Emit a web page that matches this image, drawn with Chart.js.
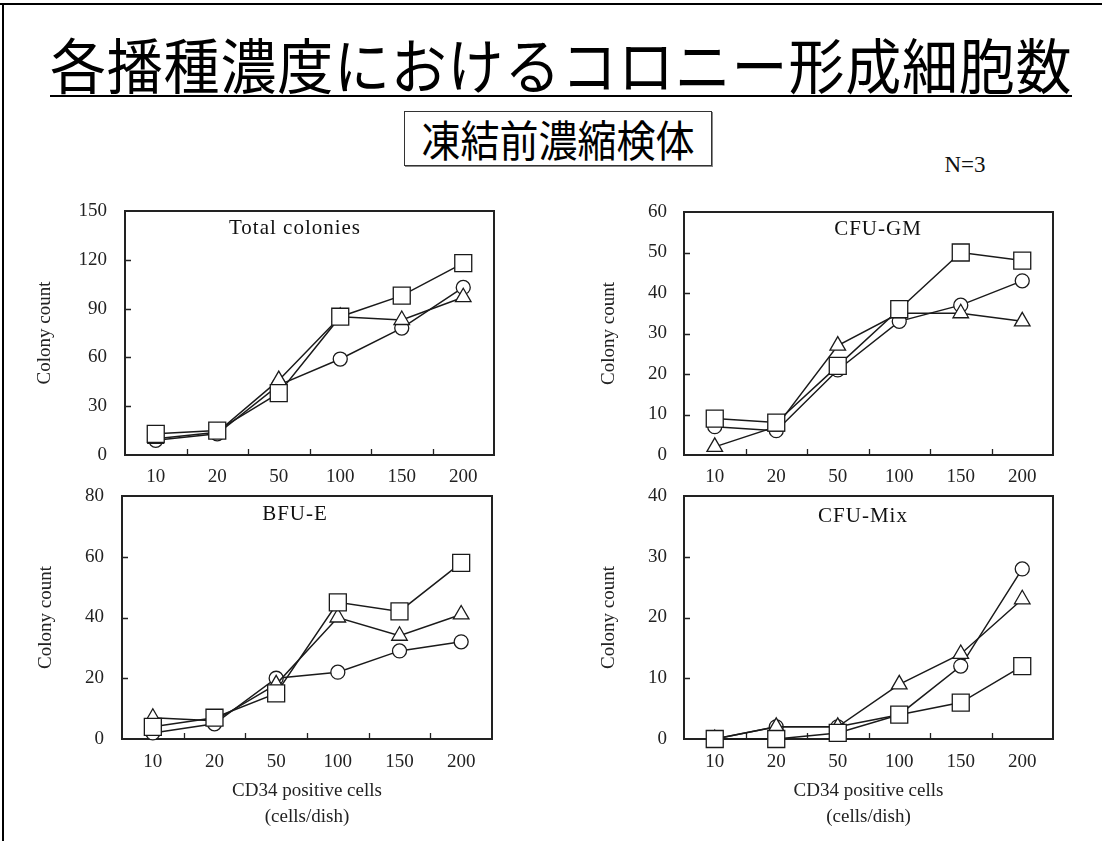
<!DOCTYPE html>
<html><head><meta charset="utf-8">
<script src="https://cdn.jsdelivr.net/npm/chart.js@4"></script>
<style>
html,body{margin:0;padding:0;background:#fff;}
#page{position:relative;width:1102px;height:841px;overflow:hidden;background:#fff;}
.abs{position:absolute;}
#frameTop{left:0;top:3px;width:1102px;height:2px;background:#000;}
#frameLeft{left:2px;top:3px;width:2px;height:838px;background:#000;}
#mainTitle{left:50px;top:30px;width:1022px;height:66px;font-family:"Noto Sans CJK JP",sans-serif;font-size:56px;line-height:66px;letter-spacing:0.8px;white-space:nowrap;color:#000;transform:scaleY(1.08);transform-origin:50% 50%;}
#underline{left:50px;top:95px;width:1022px;height:2px;background:#000;}
#subBox{left:404px;top:111px;width:306px;height:53px;border:1px solid #333;box-shadow:1px 1px 0 #888;text-align:center;white-space:nowrap;color:#000;}
#subBox span{display:inline-block;font-family:"Noto Sans CJK JP",sans-serif;font-size:39px;line-height:53px;transform:scaleY(1.1);transform-origin:50% 50%;}
#nText{left:930px;top:150px;width:70px;text-align:center;font-family:"Liberation Serif",serif;font-size:23px;line-height:30px;color:#111;}
.ptitle{font-family:"Liberation Serif",serif;font-size:21px;line-height:24px;letter-spacing:1px;color:#111;white-space:nowrap;transform:translate(-50%,-50%);}
canvas{position:absolute;}
</style>
</head>
<body>
<div id="page">
  <div id="frameTop" class="abs"></div>
  <div id="frameLeft" class="abs"></div>
  <div id="mainTitle" class="abs">各播種濃度におけるコロニー形成細胞数</div>
  <div id="underline" class="abs"></div>
  <div id="subBox" class="abs"><span>凍結前濃縮検体</span></div>
  <div id="nText" class="abs">N=3</div>
  <canvas id="cTL" width="484" height="316" style="left:25px;top:179px;"></canvas>
  <canvas id="cTR" width="484" height="315" style="left:584px;top:180px;"></canvas>
  <canvas id="cBL" width="485" height="367" style="left:22px;top:464px;"></canvas>
  <canvas id="cBR" width="484" height="367" style="left:584px;top:464px;"></canvas>
  <div class="abs ptitle" style="left:295px;top:227px;">Total colonies</div>
  <div class="abs ptitle" style="left:878px;top:228px;">CFU-GM</div>
  <div class="abs ptitle" style="left:295px;top:513px;">BFU-E</div>
  <div class="abs ptitle" style="left:863px;top:515px;">CFU-Mix</div>
</div>
<script>
// ---- data ----
const categories = ['10', '20', '50', '100', '150', '200'];

const totalSquare   = [13, 15, 38, 85, 98, 118];
const totalTriangle = [10, 14, 46, 85, 83, 97];
const totalCircle   = [9, 13, 43, 59, 78, 103];

const gmSquare   = [9, 8, 22, 36, 50, 48];
const gmTriangle = [2, 7, 27, 35, 35, 33];
const gmCircle   = [7, 6, 21, 33, 37, 43];

const bfuSquare   = [4, 7, 15, 45, 42, 58];
const bfuTriangle = [7, 6, 18, 40, 34, 41];
const bfuCircle   = [2, 5, 20, 22, 29, 32];

const mixSquare   = [0, 0, 1, 4, 6, 12];
const mixTriangle = [0, 2, 2, 9, 14, 23];
const mixCircle   = [0, 2, 2, 4, 12, 28];

const yLabel = 'Colony count';
const xLabel = ['CD34 positive cells', '(cells/dish)'];

// ---- rendering ----
const SERIF = "'Liberation Serif', 'Times New Roman', serif";
const INK = '#1a1a1a';

const frameTicks = {
  id: 'frameTicks',
  beforeDatasetsDraw(chart) {
    const {ctx, chartArea: a, scales: {x, y}} = chart;
    ctx.save();
    ctx.strokeStyle = '#222';
    ctx.lineWidth = 1.3;
    ctx.beginPath();
    for (let i = 1; i < x.ticks.length; i++) {
      const px = Math.round((x.getPixelForTick(i - 1) + x.getPixelForTick(i)) / 2) + 0.5;
      ctx.moveTo(px, a.bottom);
      ctx.lineTo(px, a.bottom - 6);
    }
    for (let i = 1; i < y.ticks.length - 1; i++) {
      const py = Math.round(y.getPixelForTick(i)) + 0.5;
      ctx.moveTo(a.left, py);
      ctx.lineTo(a.left + 6, py);
    }
    ctx.stroke();
    ctx.lineWidth = 2;
    ctx.strokeStyle = '#222';
    ctx.strokeRect(a.left, a.top, a.right - a.left, a.bottom - a.top);
    ctx.restore();
  }
};

function series(data, style) {
  const r = style === 'rect' ? 12 : (style === 'triangle' ? 9 : 7);
  return {
    data: data,
    borderColor: INK,
    borderWidth: 1.5,
    pointStyle: style,
    pointRadius: r,
    pointHoverRadius: r,
    pointBorderWidth: 1.3,
    pointBorderColor: INK,
    pointBackgroundColor: '#fff',
    tension: 0,
    clip: false
  };
}

function makeChart(id, sq, tri, cir, yMax, yStep, titlePad, tickPad, withXTitle) {
  const xh = withXTitle ? 92 : 40;
  return new Chart(document.getElementById(id), {
    type: 'line',
    data: {
      labels: categories,
      datasets: [series(sq, 'rect'), series(tri, 'triangle'), series(cir, 'circle')]
    },
    options: {
      responsive: false,
      animation: false,
      devicePixelRatio: 1,
      events: [],
      layout: {autoPadding: false, padding: {top: 32, right: 15, left: 0, bottom: 0}},
      plugins: {legend: {display: false}, tooltip: {enabled: false}, title: {display: false}},
      scales: {
        x: {
          type: 'category',
          offset: true,
          grid: {display: false, offset: true, drawTicks: false},
          border: {display: false},
          ticks: {color: '#222', font: {family: SERIF, size: 19}, padding: withXTitle ? 12 : 11, maxRotation: 0, autoSkip: false},
          title: {
            display: withXTitle,
            text: xLabel,
            color: '#222',
            font: {family: SERIF, size: 19, lineHeight: 1.42},
            padding: {top: 0, bottom: 0}
          },
          afterFit(s) { s.height = xh; }
        },
        y: {
          min: 0, max: yMax,
          grid: {display: false, drawTicks: false},
          border: {display: false},
          ticks: {stepSize: yStep, color: '#222', font: {family: SERIF, size: 19}, padding: tickPad},
          title: {
            display: true,
            text: yLabel,
            color: '#222',
            font: {family: SERIF, size: 19},
            padding: {top: titlePad, bottom: 0}
          },
          afterFit(s) { s.width = 100; }
        }
      }
    },
    plugins: [frameTicks]
  });
}

makeChart('cTL', totalSquare, totalTriangle, totalCircle, 150, 30, 9, 18, false);
makeChart('cTR', gmSquare, gmTriangle, gmCircle, 60, 10, 14, 17, false);
makeChart('cBL', bfuSquare, bfuTriangle, bfuCircle, 80, 20, 13, 18, true);
makeChart('cBR', mixSquare, mixTriangle, mixCircle, 40, 10, 14, 17, true);
</script>
</body></html>
